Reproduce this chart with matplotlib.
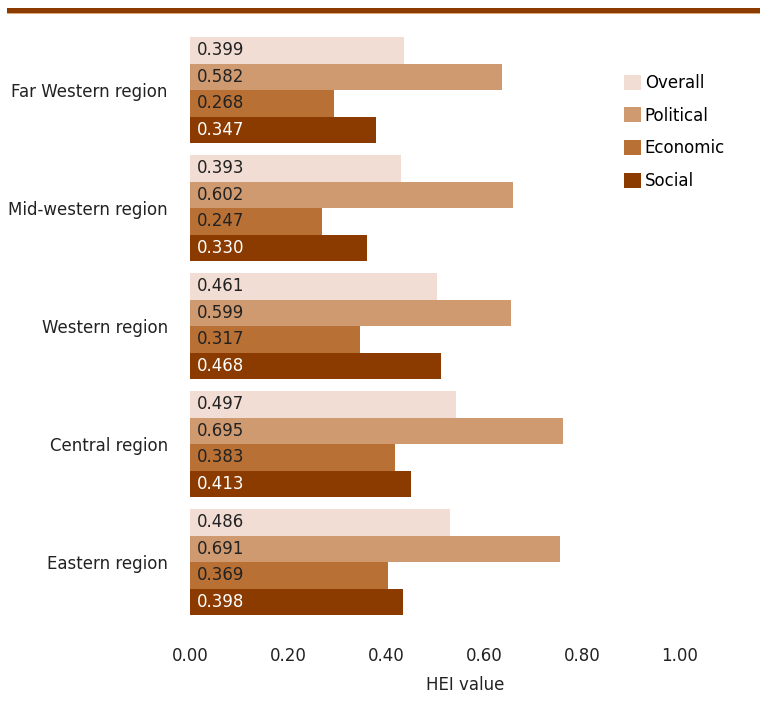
import numpy as np
import matplotlib
matplotlib.use("Agg")
import matplotlib.pyplot as plt
from matplotlib.patches import Rectangle

# data
regions = ["Far Western region", "Mid-western region", "Western region",
           "Central region", "Eastern region"]
series = ["Overall", "Political", "Economic", "Social"]
overall = [0.399, 0.393, 0.461, 0.497, 0.486]
political = [0.582, 0.602, 0.599, 0.695, 0.691]
economic = [0.268, 0.247, 0.317, 0.383, 0.369]
social = [0.347, 0.330, 0.468, 0.413, 0.398]
tick_values = [0.0, 0.2, 0.4, 0.6, 0.8, 1.0]

colors = ["#F2DDD5", "#CF9A70", "#B87035", "#8B3A00"]
text_colors = ["#222222", "#222222", "#222222", "white"]

plt.rcParams['font.family'] = ['DejaVu Sans']

W, H = 760, 713
fig = plt.figure(figsize=(W / 100, H / 100), dpi=100)

# axes placed in pixels: bars start at x=190, 536 px per unit
ax_l, ax_r, ax_t, ax_b = 190, 740, 30, 625
ax = fig.add_axes([ax_l / W, 1 - ax_b / H, (ax_r - ax_l) / W, (ax_b - ax_t) / H])
px_per_unit = 536
ax.set_xlim(0, (ax_r - ax_l) / px_per_unit)

group_px = 118
center0 = 90
ax.set_ylim((ax_b - center0) / group_px, -(center0 - ax_t) / group_px)

h = 26.5 / group_px
y = np.arange(len(regions))
all_vals = [overall, political, economic, social]
for k, (vals, name) in enumerate(zip(all_vals, series)):
    pos = y + (k - 1.5) * h
    ax.barh(pos, vals, height=h, color=colors[k], label=name, left=0)
    for p, v in zip(pos, vals):
        ax.text(0.013, p, f"{v:.3f}", va="center", ha="left",
                fontsize=12, color=text_colors[k])

ax.set_yticks(y)
ax.set_yticklabels(regions, fontsize=12, color="#222222")
# tick labels in the original sit on a tighter scale than the bars
tick_scale = 490 / 536
ax.set_xticks([t * tick_scale for t in tick_values])
ax.set_xticklabels([f"{t:.2f}" for t in tick_values], fontsize=12, color="#222222")
ax.tick_params(axis="both", length=0)
ax.tick_params(axis="x", pad=16)
ax.tick_params(axis="y", pad=16)
ax.set_xlabel("HEI value", fontsize=12, color="#222222", labelpad=8)
for s in ax.spines.values():
    s.set_visible(False)

leg = ax.legend(loc="upper left", bbox_to_anchor=((624 - ax_l) / (ax_r - ax_l), 1 - (74 - ax_t) / (ax_b - ax_t)),
                frameon=False, fontsize=12, handlelength=1.0, handleheight=1.0,
                labelspacing=0.88, handletextpad=0.25, borderpad=0, borderaxespad=0)

# top rule
fig.add_artist(Rectangle((7 / W, 1 - 13 / H), (W - 7) / W, 5 / H,
                         transform=fig.transFigure, color="#8B3A00", lw=0))
fig.add_artist(Rectangle((7 / W, 1 - 14 / H), (W - 7) / W, 1 / H,
                         transform=fig.transFigure, color="#E0A878", lw=0))

fig.savefig("out.png", dpi=100)
